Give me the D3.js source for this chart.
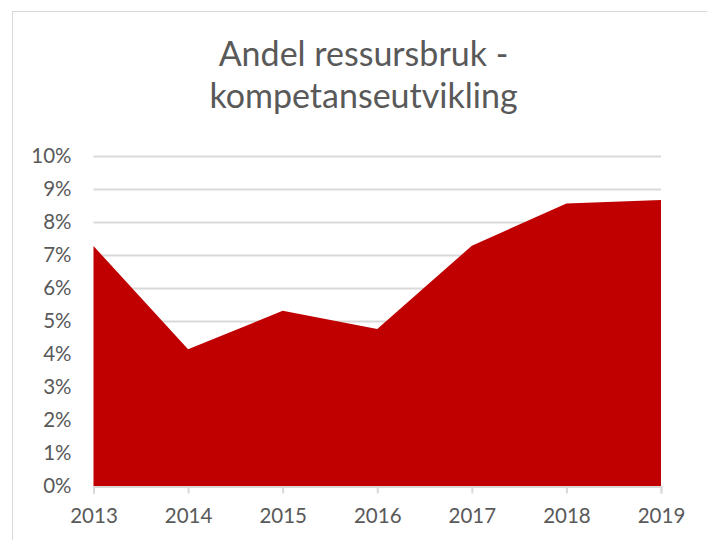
<!DOCTYPE html>
<html>
<head>
<meta charset="utf-8">
<script src="https://cdn.jsdelivr.net/npm/d3@7"></script>
<style>
html,body{margin:0;padding:0;background:#fff;}
svg{display:block;}
</style>
</head>
<body>
<svg id="chart" width="707" height="540"></svg>
<script>
const years = ["2013","2014","2015","2016","2017","2018","2019"];
const values = [0.0726, 0.0414, 0.0530, 0.0475, 0.0727, 0.0855, 0.0865];
const yTicks = [0,0.01,0.02,0.03,0.04,0.05,0.06,0.07,0.08,0.09,0.10];
const titleLines = ["Andel ressursbruk -", "kompetanseutvikling"];

const svg = d3.select("#chart");
const FONT = "Lato, 'Open Sans', sans-serif";
const TEXT = "#595959";
const GRID = "#D9D9D9";

// chart border
svg.append("rect").attr("x",12.5).attr("y",11.5).attr("width",720).attr("height",560)
  .attr("fill","#fff").attr("stroke",GRID).attr("stroke-width",1);

const plot = {left:93.5, right:661, top:155.5, bottom:486};
const x = d3.scalePoint().domain(years).range([plot.left, plot.right]);
const y = d3.scaleLinear().domain([0,0.10]).range([plot.bottom, plot.top]);

// gridlines
svg.append("g").selectAll("line").data(yTicks.slice(1)).join("line")
  .attr("x1",plot.left).attr("x2",plot.right)
  .attr("y1",d=>Math.round(y(d))+0.5).attr("y2",d=>Math.round(y(d))+0.5)
  .attr("stroke",GRID).attr("stroke-width",2);

// area
const area = d3.area().x((d,i)=>x(years[i])).y0(y(0)).y1(d=>y(d));
svg.append("path").datum(values).attr("d",area).attr("fill","#C00000");

// x axis
const xAxis = svg.append("g").attr("transform",`translate(0,${Math.round(y(0))+0.5})`)
  .call(d3.axisBottom(x).tickSize(7).tickPadding(15));
xAxis.select(".domain").attr("stroke",GRID).attr("stroke-width",2);
xAxis.selectAll(".tick line").attr("stroke",GRID).attr("stroke-width",2);
xAxis.selectAll(".tick text").attr("fill",TEXT).style("font-family",FONT).style("font-size","20.5px");

// y axis labels
const yAxis = svg.append("g").attr("transform",`translate(${plot.left},0)`)
  .call(d3.axisLeft(y).tickValues(yTicks).tickFormat(d3.format(".0%")).tickSize(0).tickPadding(22));
yAxis.select(".domain").remove();
yAxis.selectAll(".tick text").attr("fill",TEXT).style("font-family",FONT).style("font-size","20.5px");

// title
const title = svg.append("g");
const baselines = [66, 108];
titleLines.forEach((t,i)=>{
  title.append("text").attr("x",363.5).attr("y",baselines[i]).attr("text-anchor","middle")
    .attr("fill",TEXT).style("font-family",FONT).style("font-size","34px").text(t);
});
</script>
</body>
</html>
